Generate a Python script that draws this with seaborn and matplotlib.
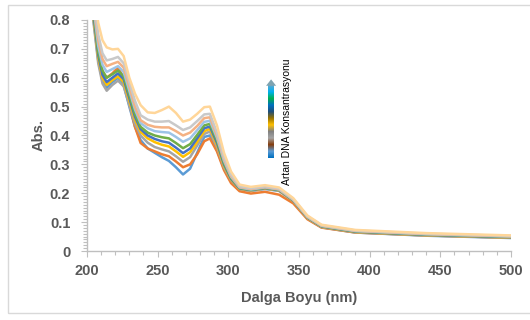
import matplotlib

matplotlib.use('Agg')
import matplotlib.pyplot as plt
import matplotlib.patches as mpatches
from matplotlib.colors import LinearSegmentedColormap
from matplotlib.ticker import MultipleLocator, FuncFormatter
import numpy as np
import pandas as pd
import seaborn as sns

# dalga boyu noktalari (nm)
wavelength = [200, 204, 208, 211, 214, 218, 222, 226, 230, 234, 238, 243, 248, 253,
              258, 263, 268, 273, 278, 283, 287, 292, 297, 302, 308, 316, 326, 336,
              346, 356, 366, 390, 440, 500]

# absorbans serileri, artan DNA konsantrasyonu
s1 = [1.00, 0.83, 0.66, 0.59, 0.565, 0.585, 0.600, 0.575, 0.500, 0.430, 0.384, 0.355,
      0.340, 0.325, 0.312, 0.290, 0.265, 0.285, 0.340, 0.395, 0.400, 0.350, 0.285, 0.243,
      0.214, 0.208, 0.215, 0.208, 0.172, 0.113, 0.082, 0.064, 0.053, 0.045]
s2 = [1.00, 0.85, 0.69, 0.62, 0.600, 0.615, 0.635, 0.600, 0.510, 0.430, 0.374, 0.355,
      0.345, 0.335, 0.328, 0.310, 0.290, 0.300, 0.335, 0.380, 0.390, 0.345, 0.280, 0.235,
      0.207, 0.199, 0.205, 0.195, 0.165, 0.110, 0.081, 0.064, 0.054, 0.046]
s3 = [1.00, 0.82, 0.65, 0.58, 0.555, 0.575, 0.590, 0.570, 0.505, 0.440, 0.400, 0.375,
      0.360, 0.352, 0.345, 0.328, 0.309, 0.325, 0.365, 0.405, 0.414, 0.360, 0.290, 0.245,
      0.215, 0.209, 0.216, 0.209, 0.173, 0.114, 0.083, 0.065, 0.054, 0.046]
s4 = [1.00, 0.84, 0.67, 0.60, 0.575, 0.592, 0.605, 0.585, 0.520, 0.455, 0.413, 0.390,
      0.377, 0.368, 0.362, 0.345, 0.326, 0.342, 0.378, 0.415, 0.423, 0.368, 0.295, 0.248,
      0.216, 0.210, 0.217, 0.210, 0.174, 0.115, 0.084, 0.066, 0.055, 0.047]
s5 = [1.00, 0.85, 0.68, 0.61, 0.585, 0.600, 0.615, 0.595, 0.530, 0.465, 0.422, 0.400,
      0.388, 0.380, 0.375, 0.358, 0.339, 0.355, 0.390, 0.425, 0.431, 0.375, 0.300, 0.250,
      0.217, 0.211, 0.218, 0.211, 0.175, 0.116, 0.085, 0.067, 0.056, 0.048]
s6 = [1.00, 0.86, 0.69, 0.625, 0.600, 0.612, 0.625, 0.605, 0.540, 0.475, 0.430, 0.410,
      0.400, 0.394, 0.390, 0.374, 0.356, 0.370, 0.402, 0.435, 0.440, 0.383, 0.305, 0.253,
      0.218, 0.212, 0.219, 0.212, 0.176, 0.117, 0.086, 0.068, 0.057, 0.049]
s7 = [1.00, 0.87, 0.71, 0.645, 0.620, 0.630, 0.640, 0.620, 0.555, 0.490, 0.443, 0.425,
      0.415, 0.412, 0.410, 0.395, 0.378, 0.390, 0.418, 0.447, 0.451, 0.392, 0.312, 0.257,
      0.220, 0.213, 0.220, 0.213, 0.177, 0.118, 0.087, 0.069, 0.058, 0.050]
s8 = [1.00, 0.88, 0.73, 0.665, 0.640, 0.648, 0.655, 0.635, 0.570, 0.500, 0.453, 0.437,
      0.430, 0.428, 0.428, 0.415, 0.400, 0.410, 0.433, 0.460, 0.463, 0.400, 0.318, 0.260,
      0.222, 0.215, 0.222, 0.214, 0.178, 0.119, 0.088, 0.070, 0.059, 0.051]
s9 = [1.00, 0.90, 0.75, 0.685, 0.660, 0.665, 0.672, 0.650, 0.585, 0.520, 0.470, 0.455,
      0.448, 0.448, 0.450, 0.435, 0.419, 0.428, 0.450, 0.473, 0.475, 0.410, 0.325, 0.265,
      0.225, 0.217, 0.224, 0.216, 0.179, 0.120, 0.089, 0.071, 0.060, 0.052]
s10 = [1.05, 0.93, 0.79, 0.73, 0.705, 0.698, 0.700, 0.675, 0.600, 0.545, 0.505, 0.480,
       0.478, 0.488, 0.500, 0.478, 0.448, 0.455, 0.475, 0.498, 0.500, 0.435, 0.340, 0.275,
       0.230, 0.222, 0.228, 0.220, 0.183, 0.123, 0.091, 0.073, 0.062, 0.054]

series = [s1, s2, s3, s4, s5, s6, s7, s8, s9, s10]
colors = ['#5B9BD5', '#ED7D31', '#A5A5A5', '#FFC000', '#4472C4',
          '#70AD47', '#9DC3E6', '#F4B183', '#C9C9C9', '#FFD699']

rows = []
for i, vals in enumerate(series):
    for w, v in zip(wavelength, vals):
        rows.append({'wl': w, 'abs': v, 'seri': f's{i + 1}'})
df = pd.DataFrame(rows)

sns.set_style('white')
plt.rcParams['font.family'] = ['Liberation Sans', 'DejaVu Sans']

fig = plt.figure(figsize=(5.3, 3.2), dpi=100)
ax = fig.add_axes([0.164, 0.2156, 0.8, 0.722])

sns.lineplot(data=df, x='wl', y='abs', hue='seri', palette=colors,
             linewidth=1.8, legend=False, ax=ax, sort=False,
             solid_joinstyle='round', solid_capstyle='round')

ax.set_xlim(200, 500)
ax.set_ylim(0, 0.8)
ax.xaxis.set_major_locator(MultipleLocator(50))
ax.xaxis.set_minor_locator(MultipleLocator(10))
ax.yaxis.set_major_locator(MultipleLocator(0.1))
ax.yaxis.set_minor_locator(MultipleLocator(0.01))
ax.yaxis.set_major_formatter(FuncFormatter(
    lambda v, p: '0' if abs(v) < 1e-9 else f'{v:.1f}'))

for s in ['top', 'right']:
    ax.spines[s].set_visible(False)
for s in ['left', 'bottom']:
    ax.spines[s].set_color('#BFBFBF')
    ax.spines[s].set_linewidth(1.0)

ax.tick_params(which='both', direction='out', color='#BFBFBF', width=0.8,
               bottom=True, left=True)
ax.tick_params(which='major', length=4, labelsize=10.5, labelcolor='#595959')
ax.tick_params(axis='x', which='major', pad=5)
ax.tick_params(axis='y', which='major', pad=8)
ax.tick_params(which='minor', length=3)
for lbl in ax.get_xticklabels() + ax.get_yticklabels():
    lbl.set_fontweight('bold')

ax.set_xlabel('Dalga Boyu (nm)', fontsize=10.5, fontweight='bold', color='#595959', labelpad=10)
ax.set_ylabel('Abs.', fontsize=10.5, fontweight='bold', color='#595959', labelpad=3)

# gradyan ok
grad_colors = ['#0070C0', '#5B9BD5', '#843C0C', '#A5A5A5', '#808080', '#FFC000',
               '#997300', '#1F4E79', '#0070C0', '#00B050', '#00B0F0', '#5BA8D0']
cmap = LinearSegmentedColormap.from_list('artan', grad_colors)
cax = fig.add_axes([0.506, 0.506, 0.011, 0.228])
cax.imshow(np.linspace(0, 1, 200).reshape(-1, 1), aspect='auto', cmap=cmap,
           origin='lower', extent=[0, 1, 0, 1])
cax.axis('off')
fig.patches.append(mpatches.Polygon([[0.502, 0.732], [0.521, 0.732], [0.5115, 0.752]],
                                    closed=True, transform=fig.transFigure,
                                    facecolor='#7FA3B0', edgecolor='none'))
fig.text(0.541, 0.62, 'Artan DNA Konsantrasyonu', rotation=90, fontsize=7.5,
         ha='center', va='center', color='#000000')

# dis cerceve
fig.patches.append(mpatches.Rectangle((8 / 530, 1 - 313 / 320), 1.0, (313 - 5) / 320,
                                      transform=fig.transFigure, fill=False,
                                      edgecolor='#D9D9D9', linewidth=1.0))

fig.savefig('out.png', dpi=100)
plt.close(fig)
